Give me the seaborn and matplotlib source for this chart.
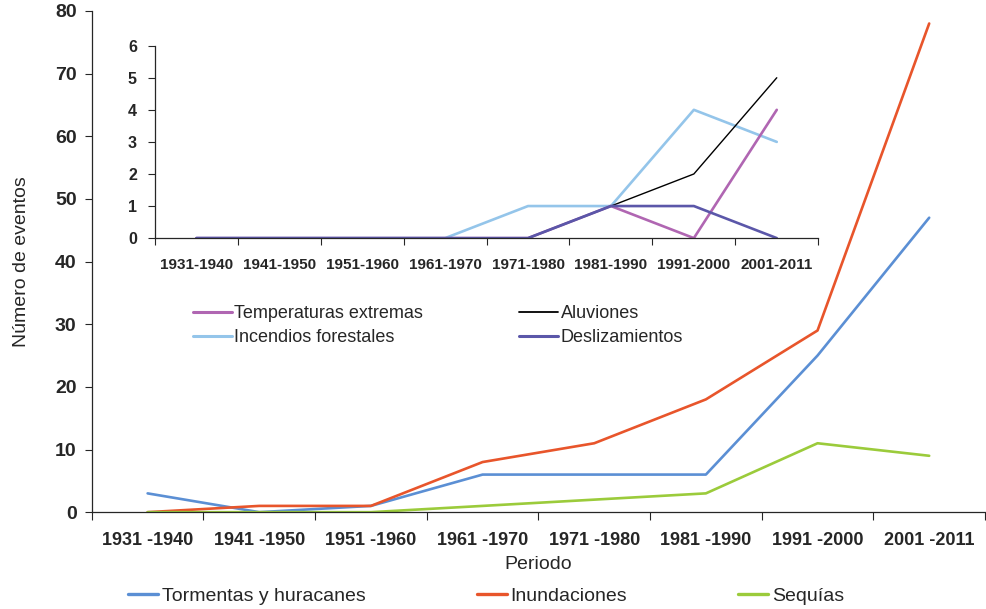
import numpy as np
import pandas as pd
import matplotlib
matplotlib.use("Agg")
import matplotlib.pyplot as plt
import seaborn as sns
from matplotlib.lines import Line2D

periodos = ["1931-1940", "1941-1950", "1951-1960", "1961-1970",
            "1971-1980", "1981-1990", "1991-2000", "2001-2011"]
periodos_main = [p.replace("-", " -") for p in periodos]

# serie principal
tormentas = [3, 0, 1, 6, 6, 6, 25, 47]
inundaciones = [0, 1, 1, 8, 11, 18, 29, 78]
sequias = [0, 0, 0, 1, 2, 3, 11, 9]

# recuadro
temperaturas = [0, 0, 0, 0, 0, 1, 0, 4]
aluviones = [0, 0, 0, 0, 0, 1, 2, 5]
incendios = [0, 0, 0, 0, 1, 1, 4, 3]
deslizamientos = [0, 0, 0, 0, 0, 1, 1, 0]

main_series = {"Tormentas y huracanes": tormentas,
               "Inundaciones": inundaciones,
               "Sequías": sequias}
main_colors = {"Tormentas y huracanes": "#5b8fd4",
               "Inundaciones": "#e8552b",
               "Sequías": "#9bcb3b"}

inset_series = {"Temperaturas extremas": temperaturas,
                "Incendios forestales": incendios,
                "Aluviones": aluviones,
                "Deslizamientos": deslizamientos}
inset_colors = {"Temperaturas extremas": "#b066b2",
                "Incendios forestales": "#94c5ea",
                "Aluviones": "#000000",
                "Deslizamientos": "#5b57a9"}
inset_widths = {"Temperaturas extremas": 1.9,
                "Incendios forestales": 1.9,
                "Aluviones": 1.0,
                "Deslizamientos": 1.9}


def to_long(series):
    rows = []
    for name, vals in series.items():
        for i, v in enumerate(vals):
            rows.append({"x": i, "serie": name, "valor": v})
    return pd.DataFrame(rows)


sns.set_style("ticks")
plt.rcParams["font.family"] = ["Liberation Sans", "DejaVu Sans"]

fig = plt.figure(figsize=(9.87, 6.09), dpi=100)
ax = fig.add_axes([0.093, 0.159, 0.905, 0.823])

df_main = to_long(main_series)
sns.lineplot(data=df_main, x="x", y="valor", hue="serie", palette=main_colors,
             linewidth=1.9, ax=ax, legend=False)

ax.set_xlim(-0.5, 7.5)
ax.set_ylim(0, 80)
ax.set_yticks(range(0, 81, 10))
ax.set_xticks(np.arange(-0.5, 8, 1))
ax.set_xticklabels([])
ax.set_xticks(range(8), minor=True)
ax.set_xticklabels(periodos_main, minor=True)
ax.tick_params(axis="x", which="minor", length=0, pad=14, labelsize=13)
ax.tick_params(axis="x", which="major", length=6, width=0.8, direction="out")
ax.tick_params(axis="y", length=5, width=0.8, labelsize=14, pad=6)
for lab in ax.get_yticklabels() + ax.get_xticklabels(minor=True):
    lab.set_fontweight("bold")
ax.set_xlabel("Periodo", fontsize=14, labelpad=5)
ax.set_ylabel("Número de eventos", fontsize=14, labelpad=18)
for s in ["top", "right"]:
    ax.spines[s].set_visible(False)
ax.spines["left"].set_linewidth(0.9)
ax.spines["bottom"].set_linewidth(0.9)

main_handles = [Line2D([], [], color=main_colors[n], lw=2.4) for n in main_series]
fig.legend(main_handles, list(main_series), loc="lower left",
           bbox_to_anchor=(0.112, -0.022), ncol=3, frameon=False,
           fontsize=14, handlelength=1.55, handletextpad=0.2,
           columnspacing=5.7)

# recuadro
axi = fig.add_axes([0.157, 0.609, 0.672, 0.316])
df_in = to_long(inset_series)
order = ["Incendios forestales", "Temperaturas extremas", "Aluviones", "Deslizamientos"]
for name in order:
    sub = df_in[df_in["serie"] == name]
    sns.lineplot(data=sub, x="x", y="valor", color=inset_colors[name],
                 linewidth=inset_widths[name], ax=axi, legend=False)
axi.set_xlim(-0.5, 7.5)
axi.set_ylim(0, 6)
axi.set_yticks(range(0, 7))
axi.set_xticks(np.arange(-0.5, 8, 1))
axi.set_xticklabels([])
axi.set_xticks(range(8), minor=True)
axi.set_xticklabels(periodos, minor=True)
axi.tick_params(axis="x", which="minor", length=0, pad=14, labelsize=11)
axi.tick_params(axis="x", which="major", length=5, width=0.8, direction="out")
axi.tick_params(axis="y", length=5, width=0.8, labelsize=11.5, pad=8)
for lab in axi.get_yticklabels() + axi.get_xticklabels(minor=True):
    lab.set_fontweight("bold")
axi.set_xlabel("")
axi.set_ylabel("")
axi.patch.set_alpha(0)
for s in ["top", "right"]:
    axi.spines[s].set_visible(False)
axi.spines["left"].set_linewidth(0.9)
axi.spines["bottom"].set_linewidth(0.9)

inset_handles = [Line2D([], [], color=inset_colors[n], lw=inset_widths[n] + 0.3)
                 for n in inset_series]
fig.legend(inset_handles, list(inset_series), loc="upper left",
           bbox_to_anchor=(0.179, 0.526), ncol=2, frameon=False,
           fontsize=13, handlelength=2.15, handletextpad=0.15,
           columnspacing=5.3, labelspacing=0.42)

fig.savefig("out.png", dpi=100)
